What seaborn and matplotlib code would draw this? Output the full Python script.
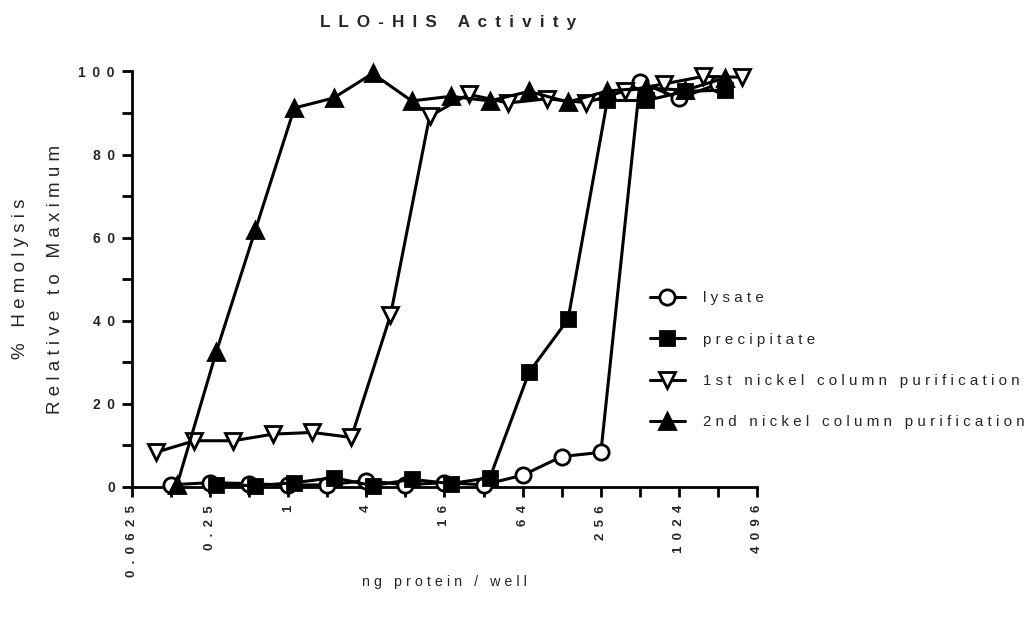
import numpy as np
import pandas as pd
import matplotlib
matplotlib.use('Agg')
import matplotlib.pyplot as plt
from matplotlib.ticker import FixedLocator, NullFormatter
import seaborn as sns

sns.set_style('white')
plt.rcParams['font.family'] = ['Liberation Sans', 'DejaVu Sans']

lysate_x = [0.125, 0.25, 0.5, 1, 2, 4, 8, 16, 32, 64, 128, 256, 512, 1024, 2048]
lysate_y = [0.5, 1.0, 0.8, 0.4, 0.5, 1.5, 0.5, 1.0, 0.5, 2.8, 7.3, 8.3, 97.4, 93.5, 97.0]

precip_x = [0.28, 0.56, 1.12, 2.24, 4.48, 8.96, 17.9, 35.8, 71.7, 143, 287, 573, 1147, 2294]
precip_y = [0.5, 0.3, 1.0, 2.2, 0.3, 1.8, 0.8, 2.2, 27.6, 40.3, 93.0, 93.0, 95.2, 95.5]

nickel1_x = [0.096, 0.19, 0.38, 0.77, 1.54, 3.07, 6.15, 12.3, 24.6, 49.2, 98.4, 197, 394, 787, 1575, 3150]
nickel1_y = [8.3, 11.1, 11.1, 12.7, 13.1, 11.9, 41.3, 89.2, 94.5, 92.4, 93.4, 92.5, 95.3, 97.0, 98.8, 98.6]

nickel2_x = [0.14, 0.28, 0.56, 1.12, 2.24, 4.48, 8.96, 17.9, 35.8, 71.7, 143, 287, 573, 1147, 2294]
nickel2_y = [0.5, 32.4, 61.8, 91.2, 93.6, 99.5, 92.9, 94.0, 92.9, 95.2, 92.6, 95.3, 96.0, 95.5, 98.4]

labels = ["lysate", "precipitate", "1st nickel column purification", "2nd nickel column purification"]
xticks = [0.0625, 0.25, 1, 4, 16, 64, 256, 1024, 4096]
xtick_labels = ["0.0625", "0.25", "1", "4", "16", "64", "256", "1024", "4096"]
xminor = [0.125, 0.5, 2, 8, 32, 128, 512, 2048]
yticks = [0, 20, 40, 60, 80, 100]


def sp(s, sep=" "):
    return sep.join(s)


wide = " \u2009"

series = [
    (lysate_x, lysate_y, 'o', 'white', 11),
    (precip_x, precip_y, 's', 'black', 10),
    (nickel1_x, nickel1_y, 'v', 'white', 11),
    (nickel2_x, nickel2_y, '^', 'black', 11),
]

fig = plt.figure(figsize=(10.36, 6.21), dpi=100)
ax = fig.add_axes([0.127, 0.216, 0.604, 0.669])

for (xs, ys, m, fc, ms), lab in zip(series, labels):
    df = pd.DataFrame({'x': xs, 'y': ys})
    sns.lineplot(data=df, x='x', y='y', ax=ax, color='black', lw=2.2,
                 marker=m, markersize=ms, markerfacecolor=fc,
                 markeredgecolor='black', markeredgewidth=2,
                 label=sp(lab), clip_on=False, sort=False, zorder=3)

ax.set_xscale('log', base=2)
ax.set_xlim(0.0625, 4096)
ax.set_ylim(0, 100)
ax.xaxis.set_major_locator(FixedLocator(xticks))
ax.xaxis.set_minor_locator(FixedLocator(xminor))
ax.xaxis.set_minor_formatter(NullFormatter())
ax.set_xticks(xticks)
ax.set_xticklabels([sp(t, wide) for t in xtick_labels], rotation=90, fontweight='bold', fontsize=9.5)
ax.set_yticks(yticks)
ax.set_yticks([10, 30, 50, 70, 90], minor=True)
ax.set_yticklabels([sp(str(t), wide) for t in yticks], fontweight='bold', fontsize=10)

for side in ['top', 'right']:
    ax.spines[side].set_visible(False)
for side in ['left', 'bottom']:
    ax.spines[side].set_linewidth(2)
    ax.spines[side].set_color('black')
ax.tick_params(which='both', direction='out', length=7, width=2, color='black',
               bottom=True, left=True)
ax.tick_params(axis='x', pad=6)
ax.tick_params(axis='y', pad=5)

fig.text(0.4325, 0.964, sp("LLO-HIS Activity", wide), fontweight='bold', fontsize=12.3,
         ha='center', va='center')
ax.set_xlabel(sp("ng protein / well"), fontsize=10.3)
ax.xaxis.set_label_coords(0.5, -0.212)
ax.set_ylabel(sp("% Hemolysis") + "\n" + sp("Relative to Maximum"), fontsize=13.5,
              linespacing=2.4)
ax.yaxis.set_label_coords(-0.108, 0.5)

ax.legend(loc='center left', bbox_to_anchor=(0.614, 0.42), bbox_transform=fig.transFigure,
          frameon=False, fontsize=10.9, labelspacing=1.8, handlelength=2.3,
          handletextpad=1.2)

fig.savefig('out.png', dpi=100)
